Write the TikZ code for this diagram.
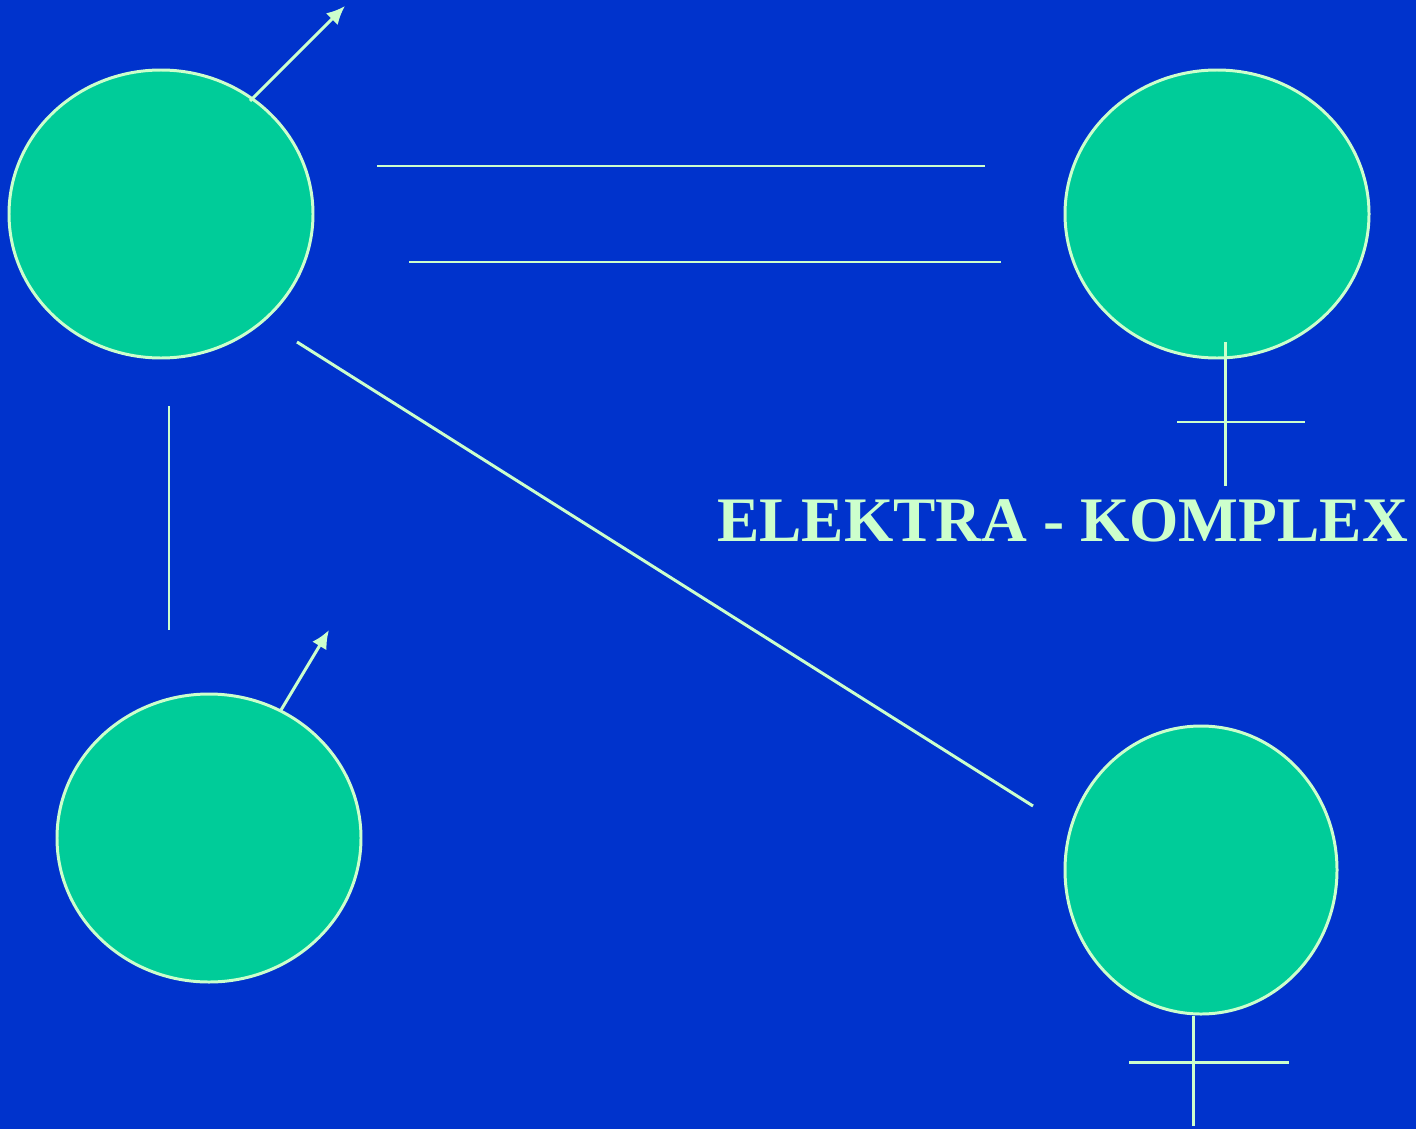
\documentclass[tikz,border=0pt]{standalone}
\usepackage{fontspec}
\setmainfont{Liberation Serif}
\usetikzlibrary{shapes.geometric,arrows.meta}
\definecolor{bgblue}{RGB}{0,51,204}
\definecolor{disc}{RGB}{0,204,153}
\definecolor{pale}{RGB}{204,255,204}
\tikzset{
  person/.style={ellipse,draw=pale,fill=disc,line width=1.7pt,inner sep=0pt,minimum height=288\pxu},
  link/.style={draw=pale,line width=1.7pt},
  pointer/.style={link,-{Latex[length=10.5pt,width=9.5pt]}},
}
\newlength{\pxu}\setlength{\pxu}{0.02cm}
\begin{document}
\begin{tikzpicture}[x=0.02cm,y=-0.02cm]
\useasboundingbox (0,0) rectangle (1416,1129);
\fill[bgblue] (0,0) rectangle (1416,1129);
\node[person,minimum width=304\pxu] (father) at (161,214) {};
\node[person,minimum width=304\pxu] (daughter) at (1217,214) {};
\node[person,minimum width=304\pxu] (son) at (209,838) {};
\node[person,minimum width=272\pxu] (mother) at (1201,870) {};
% arrows
\coordinate (a1s) at (250,101); \coordinate (a1e) at (345,6);
\draw[pointer] (a1s) -- (a1e);
\coordinate (a2s) at (281,710); \coordinate (a2e) at (329,630);
\draw[pointer] (a2s) -- (a2e);
% free lines
\coordinate (l1a) at (377,166); \coordinate (l1b) at (985,166);
\draw[link] (l1a) -- (l1b);
\coordinate (l2a) at (409,262); \coordinate (l2b) at (1001,262);
\draw[link] (l2a) -- (l2b);
\coordinate (l3a) at (297,342); \coordinate (l3b) at (1033,806);
\draw[link] (l3a) -- (l3b);
\coordinate (l4a) at (169,406); \coordinate (l4b) at (169,630);
\draw[link] (l4a) -- (l4b);
% female symbols
\coordinate (d1a) at (1225,342); \coordinate (d1b) at (1225,486);
\draw[link] (d1a) -- (d1b);
\coordinate (d2a) at (1177,422); \coordinate (d2b) at (1305,422);
\draw[link] (d2a) -- (d2b);
\coordinate (m1b) at (1193,1126);
\draw[link] (mother.south -| m1b) -- (m1b);
\coordinate (m2a) at (1129,1062); \coordinate (m2b) at (1289,1062);
\draw[link] (m2a) -- (m2b);
% title
\node[text=pale,font=\fontsize{36.1pt}{40pt}\selectfont\bfseries,inner sep=0pt,anchor=base] (title) at (1062.5,541) {ELEKTRA - KOMPLEX};
\end{tikzpicture}
\end{document}
